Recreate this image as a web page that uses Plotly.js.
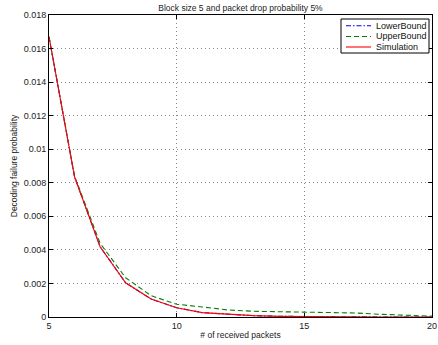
<!DOCTYPE html>
<html>
<head>
<meta charset="utf-8">
<script src="https://cdn.plot.ly/plotly-3.0.1.min.js"></script>
<style>html,body{margin:0;padding:0;background:#fff;}#chart{width:438px;height:345px;}</style>
</head>
<body>
<div id="chart"></div>
<script>
const packets = [5,6,7,8,9,10,11,12,13,14,15,16,17,18,19,20];
const lowerBound = [0.0167,0.00836,0.00419,0.00204,0.00107,0.00055,0.00026,0.00015,0.00008,0.00004,0.00002,0.00001,0.000005,0.000003,0.000002,0.000001];
const upperBound = [0.0167,0.0084,0.0044,0.00234,0.00127,0.00076,0.0006,0.00042,0.00034,0.00032,0.0003,0.00028,0.00024,0.00016,0.0001,0.00005];
const simulation = [0.0167,0.00836,0.00419,0.00204,0.00107,0.00055,0.00026,0.00015,0.00008,0.00004,0.00002,0.00001,0.000005,0.000003,0.000002,0.000001];
const seriesNames = ['LowerBound','UpperBound','Simulation'];
const yTickVals = [0,0.002,0.004,0.006,0.008,0.01,0.012,0.014,0.016,0.018];
const yTickText = ["0","0.002","0.004","0.006","0.008","0.01","0.012","0.014","0.016","0.018"];
const xTickVals = [5,10,15,20];

const styles = [
  {color:'rgb(0,0,255)', width:1.1, dash:'5px,2px,1.5px,2px'},
  {color:'rgb(0,128,0)', width:1.1, dash:'5px,3px'},
  {color:'rgb(255,0,0)', width:1.1, dash:'solid'}
];
const seriesData = [lowerBound, upperBound, simulation];

const fam = '"Liberation Sans", Arial, sans-serif';
const font = {family:fam, size:9, color:'#222'};
const traces = seriesData.map((d,i)=>({x:packets, y:d, name:seriesNames[i], mode:'lines', line:styles[i], showlegend:false}));

// plot area in pixels (for placing the legend box)
const L=49, R=432, T=15, B=317;
const px = x => (x-L)/(R-L);
const py = y => (B-y)/(B-T);

const shapes = [
  {type:'rect', xref:'paper', yref:'paper', x0:px(341), x1:px(429), y0:py(53), y1:py(19), line:{color:'#000', width:1}, fillcolor:'#fff', layer:'above'}
];
const annotations = [];
const rowY = [25.7, 36.5, 47];
seriesNames.forEach((n,i)=>{
  shapes.push({type:'line', xref:'paper', yref:'paper', x0:px(346), x1:px(371), y0:py(rowY[i]), y1:py(rowY[i]), line:styles[i], layer:'above'});
  annotations.push({xref:'paper', yref:'paper', x:px(374), y:py(rowY[i]), xanchor:'left', yanchor:'middle', text:n, showarrow:false, font:{family:fam, size:9, color:'#111'}});
});

const axisCommon = {
  showline:true, linecolor:'#000', linewidth:1, mirror:'ticks',
  ticks:'inside', ticklen:4, tickcolor:'#000', tickwidth:1,
  showgrid:true, gridcolor:'#888', griddash:'1px,3px', gridwidth:1,
  zeroline:false, tickfont:font
};
const layout = {
  width:438, height:345,
  paper_bgcolor:'#fff', plot_bgcolor:'#fff',
  margin:{l:L, r:438-R, t:T, b:345-B},
  font:font,
  title:{text:'Block size 5 and packet drop probability 5%', font:{family:fam, size:8.5, color:'#222'}, x:0.549, xanchor:'center', y:0.985, yanchor:'top'},
  xaxis:Object.assign({}, axisCommon, {range:[5,20], tickvals:xTickVals, title:{text:'# of received packets', font:{family:fam, size:8.5, color:'#222'}, standoff:2}}),
  yaxis:Object.assign({}, axisCommon, {range:[0,0.018], tickvals:yTickVals, ticktext:yTickText, title:{text:'Decoding failure probability', font:{family:fam, size:8.5, color:'#222'}, standoff:4}}),
  shapes:shapes,
  annotations:annotations,
  showlegend:false
};
Plotly.newPlot('chart', traces, layout, {displayModeBar:false, staticPlot:true});
</script>
</body>
</html>
